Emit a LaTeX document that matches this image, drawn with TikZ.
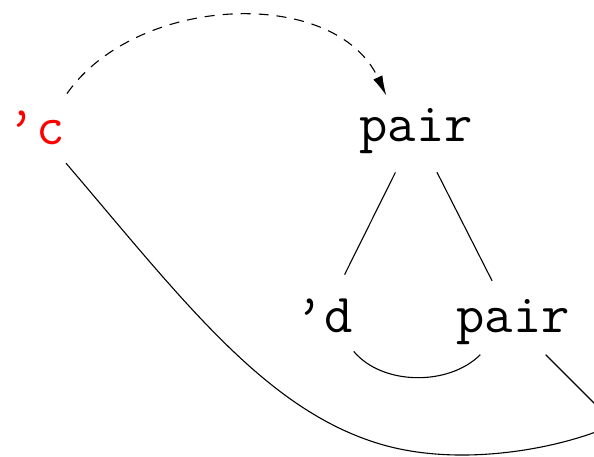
\documentclass[tikz,border=0pt]{standalone}
\usepackage{fontspec}
\usetikzlibrary{arrows.meta}
\begin{document}
\begin{tikzpicture}[x=1pt,y=-1pt,
  tn/.style={circle,minimum size=92pt,inner sep=0pt,font=\ttfamily\fontsize{55}{60}\selectfont},
  edge/.style={line width=1.1pt},
  ptr/.style={line width=1.1pt,dash pattern=on 10pt off 8pt,-{Latex[length=20pt,width=10pt]}}]
\useasboundingbox (0,0) rectangle (594,457);
\clip (0,0) rectangle (594,457);
\node[tn,text=red] (c) at (36,128) {\makebox[0pt]{’c}};
\node[tn] (p1) at (416,131) {\makebox[0pt]{pair}};
\node[tn] (d) at (324,316) {\makebox[0pt]{’d}};
\node[tn] (p2) at (513,322) {\makebox[0pt]{pair}};
\coordinate (e) at (630,415);
\coordinate (f) at (663,472);
\draw[ptr] (c.48) to[out=55,in=115,looseness=0.97] (p1.130);
\draw[edge] (p1) -- (d);
\draw[edge] (p1) -- (p2);
\draw[edge] (d) to[out=-50,in=-135,looseness=0.9] (p2);
\draw[edge] (p2) -- (f);
\draw[edge] (c) .. controls (182.7,300) and (265,409.6) .. (380,444)
  .. controls (475.8,472.7) and (598,439) .. (e);
\end{tikzpicture}
\end{document}
